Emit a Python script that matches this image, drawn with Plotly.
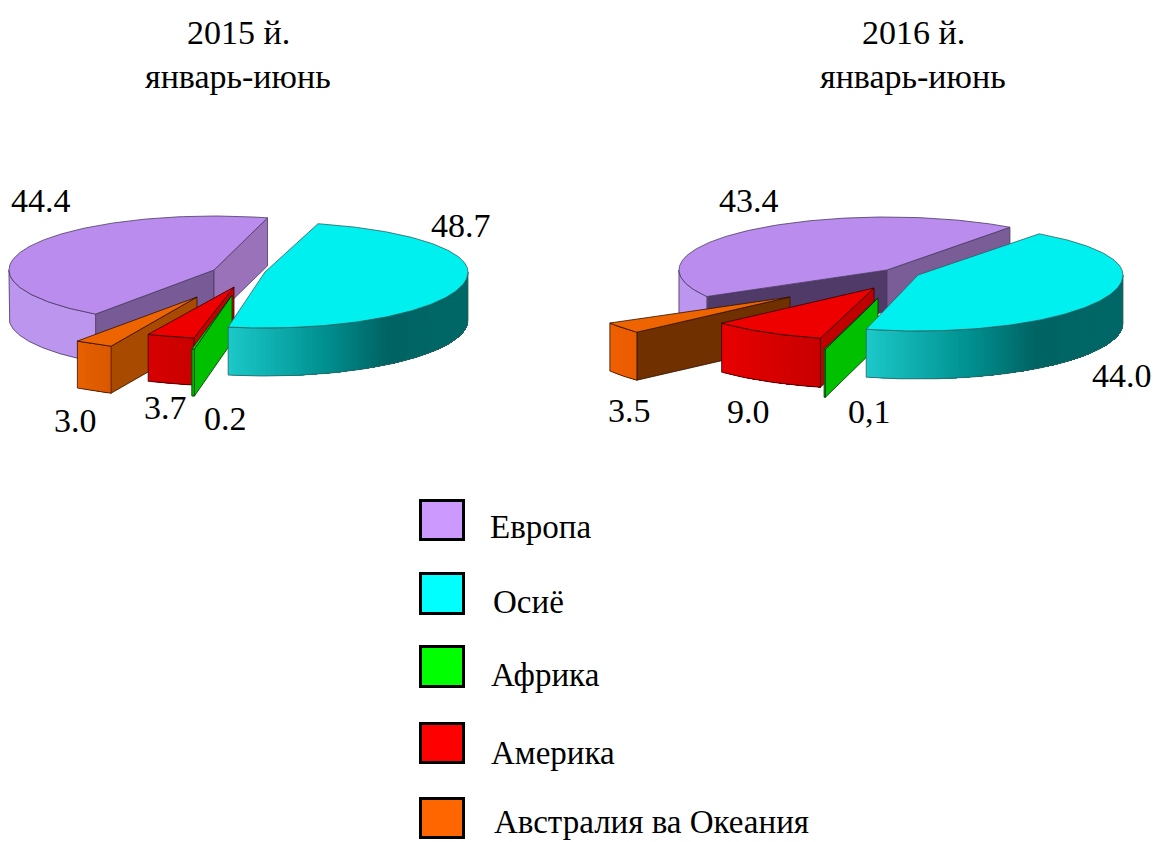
import numpy as np
import plotly.graph_objects as go

# ---------- data ----------
CATEGORIES = ["Европа", "Осиё", "Африка", "Америка", "Австралия ва Океания"]
VALUES_2015 = [44.4, 48.7, 0.2, 3.7, 3.0]
VALUES_2016 = [43.4, 44.0, 0.1, 9.0, 3.5]
LABELS_2015 = ["44.4", "48.7", "0.2", "3.7", "3.0"]
LABELS_2016 = ["43.4", "44.0", "0,1", "9.0", "3.5"]
TITLE_2015 = ["2015 й.", "январь-июнь"]
TITLE_2016 = ["2016 й.", "январь-июнь"]

# ---------- styling and layout ----------
LEGEND_COLORS = ["#cc99ff", "#00ffff", "#00ff00", "#ff0000", "#ff6600"]
FONT = "Liberation Serif"
TOP = ["#b98cee", "#00f0f0", "#00e000", "#ee0000", "#ee6400"]
EDGE = ["#4a3a60", "#2f5f5f", "#003000", "#300000", "#301000"]
DRAW_ORDER = [0, 4, 3, 2, 1]

PIE_2015 = dict(
    values=VALUES_2015, labels=LABELS_2015, start=234.7,
    # cx, cy, rx, ry back, ry front, depth
    geom=[(214, 270, 205, 54, 54, 48), (265, 272, 203, 50, 56, 48),
          (232, 295, 207, 55, 55, 47), (234, 287, 207, 52, 52, 47),
          (197, 297, 207, 54, 54, 47)],
    cut=[("#785a96", "#9a72ba"), None, "#00c000", "#c80000", "#a84a00"],
    side=[[(0, "#bc96ee"), (1, "#bc96ee")],
          [(0, "#1cc8c8"), (.4, "#009090"), (.65, "#006464"), (1, "#006868")],
          [(0, "#00c000"), (1, "#00c000")],
          [(0, "#d80000"), (1, "#c80000")],
          [(0, "#e86000"), (1, "#d85800")]],
    label_pos=[(41, 200), (461, 225), (225, 418), (165, 407), (75, 420)],
    title_x=238)
PIE_2016 = dict(
    values=VALUES_2016, labels=LABELS_2016, start=210.0,
    geom=[(887, 270, 208, 53, 53, 42), (918, 275, 205, 51, 56, 48),
          (878, 298, 208, 53, 53, 48), (874, 288, 207, 52, 52, 49),
          (790, 297, 208, 52, 52, 48)],
    cut=[("#503a68", "#7a5c96"), None, "#00c000", "#c00000", "#703000"],
    side=[[(0, "#bc96ee"), (1, "#bc96ee")],
          [(0, "#1cc8c8"), (.4, "#009090"), (.65, "#006464"), (1, "#006868")],
          [(0, "#00c000"), (1, "#00c000")],
          [(0, "#e80000"), (1, "#c80000")],
          [(0, "#f06000"), (1, "#e85c00")]],
    label_pos=[(749, 200), (1122, 375), (869, 411), (748, 411), (629, 410)],
    title_x=913)

LEGEND_BOX = [(419, 465, 499, 541), (419, 465, 572, 615), (419, 465, 645, 688),
              (419, 465, 722, 764), (419, 465, 797, 839)]
LEGEND_TEXT = [(488, 527), (491, 602), (489, 675), (489, 753), (492, 822)]

fig = go.Figure()


def poly(xs, ys, fill, line=None, width=0.8):
    fig.add_trace(go.Scatter(
        x=list(xs), y=list(ys), mode="lines", fill="toself", fillcolor=fill,
        line=dict(color=line or fill, width=width), hoverinfo="skip", showlegend=False))


def hexrgb(c):
    return np.array([int(c[i:i + 2], 16) for i in (1, 3, 5)], float)


def ramp(stops, t):
    for (t0, c0), (t1, c1) in zip(stops, stops[1:]):
        if t <= t1:
            k = (t - t0) / (t1 - t0)
            return "rgb(%d,%d,%d)" % tuple(hexrgb(c0) * (1 - k) + hexrgb(c1) * k)
    return stops[-1][1]


def point(g, a):
    cx, cy, rx, ryb, ryf, _ = g
    s, c = np.sin(np.radians(a)), np.cos(np.radians(a))
    return cx + rx * c, cy - (ryb if s > 0 else ryf) * s


def draw_slice(g, a1, a2, i, cut, side):
    cx, cy, d = g[0], g[1], g[5]
    arc = np.linspace(a1, a2, max(2, int(abs(a1 - a2)) + 2))
    ax, ay = zip(*[point(g, a) for a in arc])
    # radial cut faces that turn towards the viewer
    mx, my = point(g, (a1 + a2) / 2)
    cuts = cut if isinstance(cut, tuple) else (cut, cut)
    if cut is not None:
        for a, col in ((a1, cuts[0]), (a2, cuts[1])):
            px, py = point(g, a)
            if abs(px - cx) < 1e-6:
                continue
            if my < cy + (py - cy) / (px - cx) * (mx - cx):
                poly([cx, px, px, cx, cx], [cy, py, py + d, cy + d, cy], col, EDGE[i])
    # outer wall: only the near half of the ellipse shows
    extra = [b for b in (-360, -180, 0, 180, 360) if a2 < b < a1]
    front = sorted([a for a in list(arc) + extra if np.sin(np.radians(a)) <= 1e-9], reverse=True)
    if len(front) > 1:
        fx, fy = zip(*[point(g, a) for a in front])
        lo, hi = min(fx), max(fx)
        if side[0][1] == side[-1][1]:
            # a single flat wall
            poly(list(fx) + list(fx[::-1]) + [fx[0]],
                 list(fy) + [y + d for y in fy[::-1]] + [fy[0]], side[0][1], side[0][1], 0.5)
        else:
            # painted left to right, each strip running under the next, so no seams appear
            order = range(len(front)) if fx[0] < fx[-1] else range(len(front) - 1, -1, -1)
            order = list(order)
            for p, k in enumerate(order[:-1]):
                rest = order[p:]
                t = (fx[k] - lo) / max(hi - lo, 1e-6)
                col = ramp(side, t)
                rx_ = [fx[j] for j in rest]
                ry_ = [fy[j] for j in rest]
                poly(rx_ + rx_[::-1] + [rx_[0]], ry_ + [y + d for y in ry_[::-1]] + [ry_[0]], col, None, 0)
        poly(list(fx) + list(fx[::-1]) + [fx[0]],
             list(fy) + [y + d for y in fy[::-1]] + [fy[0]], "rgba(0,0,0,0)", EDGE[i], 0.8)
    # top surface
    poly([cx] + list(ax) + [cx], [cy] + list(ay) + [cy], TOP[i], EDGE[i], 0.8)


for pie in (PIE_2015, PIE_2016):
    angles = [pie["start"]]
    for v in pie["values"]:
        angles.append(angles[-1] - v * 3.6)
    for i in DRAW_ORDER:
        draw_slice(pie["geom"][i], angles[i], angles[i + 1], i, pie["cut"][i], pie["side"][i])
    for lab, (x, y) in zip(pie["labels"], pie["label_pos"]):
        fig.add_annotation(x=x, y=y, text=lab, showarrow=False, font=dict(family=FONT, size=34, color="black"))

for title, pie in ((TITLE_2015, PIE_2015), (TITLE_2016, PIE_2016)):
    for line, y in zip(title, (32, 76)):
        fig.add_annotation(x=pie["title_x"], y=y, text=line, showarrow=False,
                           font=dict(family=FONT, size=34, color="black"))

for name, col, box, pos in zip(CATEGORIES, LEGEND_COLORS, LEGEND_BOX, LEGEND_TEXT):
    fig.add_shape(type="rect", x0=box[0] + 1.5, x1=box[1] - 1.5, y0=box[2] + 1.5, y1=box[3] - 1.5,
                  fillcolor=col, line=dict(color="black", width=3))
    fig.add_annotation(x=pos[0], y=pos[1], text=name, showarrow=False, xanchor="left",
                       font=dict(family=FONT, size=33, color="black"))

fig.update_layout(
    width=1155, height=842, margin=dict(l=0, r=0, t=0, b=0),
    paper_bgcolor="white", plot_bgcolor="white", showlegend=False,
    xaxis=dict(range=[0, 1155], visible=False, fixedrange=True),
    yaxis=dict(range=[842, 0], visible=False, fixedrange=True))

fig.write_html("out.html", post_script="document.body.style.margin='0';document.body.style.overflow='hidden';",
               config=dict(displayModeBar=False))
